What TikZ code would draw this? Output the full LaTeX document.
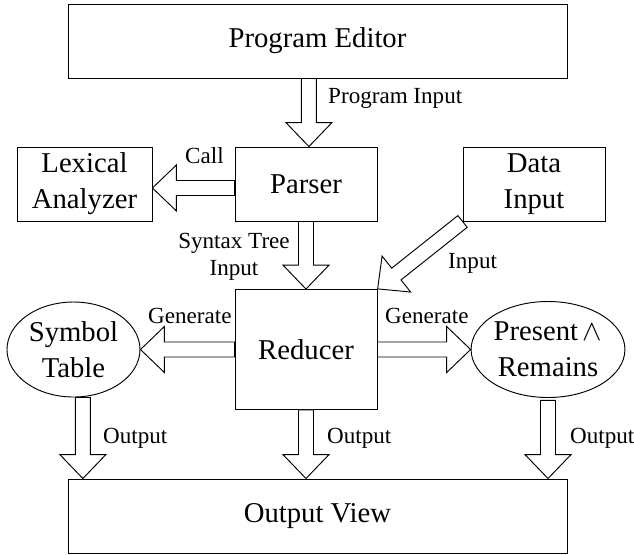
\documentclass[tikz,border=0pt]{standalone}
\usepackage{fontspec}
\setmainfont{Liberation Serif}
\usetikzlibrary{calc,shapes.geometric}

\newcommand{\boxtxt}{\fontsize{24.5pt}{30.5pt}\selectfont}
\newcommand{\arrowtxt}{\fontsize{19.7pt}{23pt}\selectfont}

\begin{document}
\begin{tikzpicture}[
x=0.03cm, y=-0.03cm,
blocknode/.style={rectangle, draw, line width=0.8pt, minimum height=2.22cm, inner sep=0pt, align=center, font=\boxtxt},
ovalnode/.style={ellipse, draw, line width=0.8pt, inner sep=0pt, align=center, font=\boxtxt},
tagnode/.style={inner sep=0pt, align=center, font=\arrowtxt},
fatarrow/.style={draw, fill=white, line width=0.8pt, line join=miter, to path={
  let \p1=(\tikztostart), \p2=(\tikztotarget),
      \n1={atan2(\y2-\y1,\x2-\x1)}, \n2={veclen(\x2-\x1,\y2-\y1)} in
  [shift={(\p1)}, rotate=\n1]
  (0pt,-6.4pt) -- ({\n2*1pt-20.4pt},-6.4pt) -- ({\n2*1pt-20.4pt},-19.6pt)
  -- ({\n2*1pt},0pt) -- ({\n2*1pt-20.4pt},19.6pt) -- ({\n2*1pt-20.4pt},6.4pt)
  -- (0pt,6.4pt) -- cycle}}
]
\useasboundingbox (0,0) rectangle (634,555);

\node[blocknode, minimum width=14.97cm] (editor) at (317.5,41) {Program Editor};
\node[blocknode, minimum width=4.26cm] (parser) at (306,184) {Parser};
\node[blocknode, minimum width=4.05cm] (lex) [left of=parser, node distance=6.645cm] {Lexical\\Analyzer};
\node[blocknode, minimum width=4.26cm] (data) [right of=parser, node distance=6.84cm] {Data\\Input};
\node[blocknode, minimum width=4.26cm, minimum height=3.6cm] (reducer) [below of=parser, node distance=4.965cm] {Reducer};
\node[ovalnode, minimum width=3.99cm, minimum height=2.85cm] (symtab) [left of=reducer, node distance=6.975cm] {Symbol\\Table};
\node[ovalnode, minimum width=4.5cm, minimum height=2.88cm] (present) [right of=reducer, node distance=7.26cm] {Present$\,\wedge$\\Remains};
\node[blocknode, minimum width=14.97cm] (outview) at (317.5,516) {Output View};

\node[tagnode, anchor=base west] (tprog) at (328,103) {Program Input};
\node[tagnode, anchor=base west] (tcall) at (185,163) {Call};
\node[tagnode] (tsyntax) at (234,257) {Syntax Tree\\Input};
\node[tagnode, anchor=base west] (tinput) at (448,268) {Input};
\node[tagnode, anchor=base west] (tgenl) at (148,323) {Generate};
\node[tagnode, anchor=base west] (tgenr) at (385,323) {Generate};
\node[tagnode, anchor=base west] (tout1) at (103,443) {Output};
\node[tagnode, anchor=base west] (tout2) at (327,443) {Output};
\node[tagnode, anchor=base west] (tout3) at (570,443) {Output};

\coordinate (pin) at ([xshift=2.5pt]parser.north);
\coordinate (sout) at ([xshift=8pt]symtab.south);
\coordinate (pout) at ([yshift=-2pt]present.south);

\draw[fatarrow] (pin |- editor.south) to (pin);
\draw[fatarrow] ([yshift=-3.4pt]parser.west) to ([yshift=-3.4pt]lex.east);
\draw[fatarrow] (parser.south) to (reducer.north);
\draw[fatarrow] (data.south west) to (reducer.north east);
\draw[fatarrow] (reducer.west) to (symtab.east);
\draw[fatarrow] (reducer.east) to (present.west);
\draw[fatarrow] (sout) to (sout |- outview.north);
\draw[fatarrow] (reducer.south) to (reducer.south |- outview.north);
\draw[fatarrow] (pout) to (pout |- outview.north);
\end{tikzpicture}
\end{document}
